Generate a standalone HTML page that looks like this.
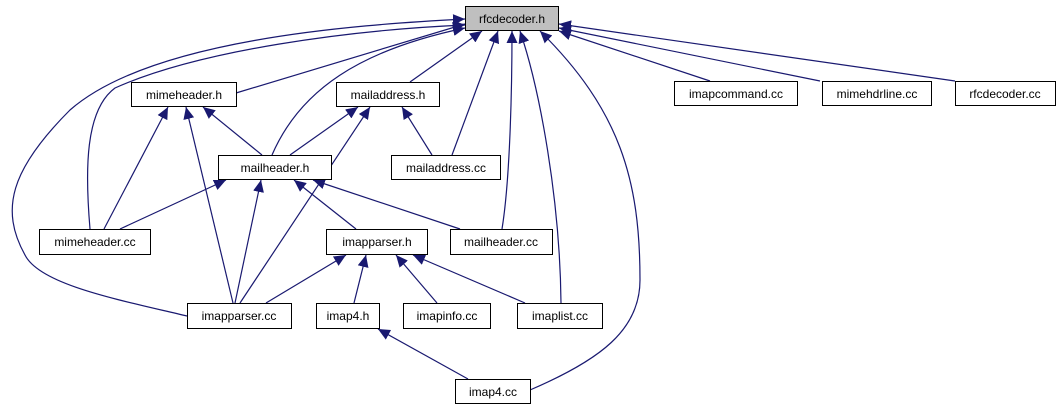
<!DOCTYPE html>
<html><head><style>
body{margin:0;background:#fff;width:1060px;height:411px;overflow:hidden}
svg text{font-family:"Liberation Sans",sans-serif;font-size:12px;fill:#000}
</style></head><body>
<svg width="1060" height="411" viewBox="0 0 1060 411" xmlns="http://www.w3.org/2000/svg">
<defs>
<marker id="a" markerWidth="12" markerHeight="11" refX="12" refY="5.5" orient="auto" markerUnits="userSpaceOnUse">
<path d="M0,0 L12,5.5 L0,11 Z" fill="#191970"/>
</marker>
</defs>
<g fill="none" stroke="#191970" stroke-width="1.2" marker-end="url(#a)">
<path d="M236,93 L465,24"/>
<path d="M410,82 L482,31"/>
<path d="M272,155 C300,90 360,50 465,28"/>
<path d="M90,229 C85,170 85,110 115,88 C200,50 350,30 465,25"/>
<path d="M187,316 C120,300 40,285 25,255 C0,210 10,170 70,110 C150,40 350,25 465,19"/>
<path d="M452,155 L498,31"/>
<path d="M502,229 C510,180 512,90 512,31"/>
<path d="M561,303 C560,200 540,90 520,31"/>
<path d="M530,390 C600,360 640,330 640,280 C640,180 620,110 540,31"/>
<path d="M710,81 L559,31"/>
<path d="M820,81 L559,28"/>
<path d="M955,81 L559,24"/>
<path d="M104,229 L168,107"/>
<path d="M233,303 L186,107"/>
<path d="M262,155 L203,107"/>
<path d="M290,155 L358,107"/>
<path d="M240,303 L370,107"/>
<path d="M432,155 L402,107"/>
<path d="M120,229 L226,180"/>
<path d="M235,303 L261,180"/>
<path d="M356,229 L294,180"/>
<path d="M460,229 L313,180"/>
<path d="M266,303 L346,255"/>
<path d="M354,303 L366,255"/>
<path d="M437,303 L396,255"/>
<path d="M525,303 L413,255"/>
<path d="M468,379 L378,329"/>
</g>
<g stroke="#000" stroke-width="1" fill="#fff">
<rect x="465.5" y="6.5" width="93" height="24" fill="#bfbfbf"/>
<rect x="131.5" y="82.5" width="105" height="24"/>
<rect x="336.5" y="82.5" width="103" height="24"/>
<rect x="674.5" y="81.5" width="123" height="24"/>
<rect x="822.5" y="81.5" width="109" height="24"/>
<rect x="955.5" y="81.5" width="100" height="24"/>
<rect x="218.5" y="155.5" width="113" height="24"/>
<rect x="391.5" y="155.5" width="109" height="24"/>
<rect x="39.5" y="229.5" width="111" height="25"/>
<rect x="326.5" y="229.5" width="101" height="25"/>
<rect x="450.5" y="229.5" width="102" height="25"/>
<rect x="187.5" y="303.5" width="104" height="25"/>
<rect x="316.5" y="303.5" width="63" height="25"/>
<rect x="403.5" y="303.5" width="87" height="25"/>
<rect x="517.5" y="303.5" width="85" height="25"/>
<rect x="455.5" y="379.5" width="75" height="24"/>
</g>
<g text-anchor="middle">
<text x="512" y="23">rfcdecoder.h</text>
<text x="184" y="99">mimeheader.h</text>
<text x="388" y="99">mailaddress.h</text>
<text x="736" y="98">imapcommand.cc</text>
<text x="877" y="98">mimehdrline.cc</text>
<text x="1005" y="98">rfcdecoder.cc</text>
<text x="275" y="172">mailheader.h</text>
<text x="446" y="172">mailaddress.cc</text>
<text x="95" y="246">mimeheader.cc</text>
<text x="377" y="246">imapparser.h</text>
<text x="501" y="246">mailheader.cc</text>
<text x="239" y="320">imapparser.cc</text>
<text x="348" y="320">imap4.h</text>
<text x="447" y="320">imapinfo.cc</text>
<text x="560" y="320">imaplist.cc</text>
<text x="493" y="396">imap4.cc</text>
</g>
</svg>
</body></html>
